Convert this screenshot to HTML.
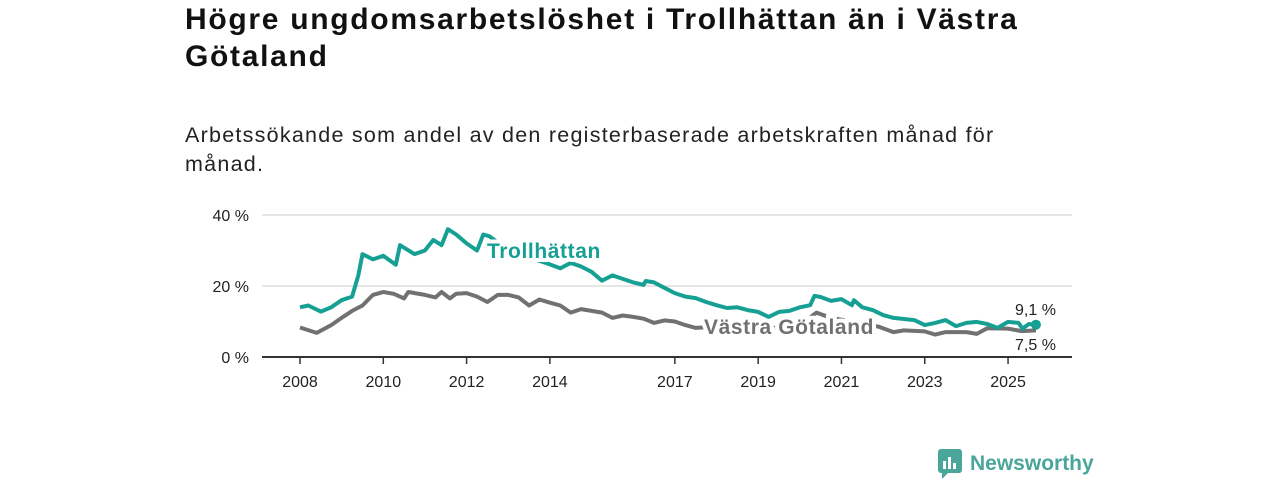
<!DOCTYPE html>
<html><head><meta charset="utf-8"><style>
body{margin:0;width:1280px;height:480px;background:#fff;font-family:"Liberation Sans",sans-serif;position:relative;overflow:hidden}
h1{position:absolute;left:185px;top:1px;margin:0;font-size:30px;line-height:37px;font-weight:bold;color:#111;width:850px;letter-spacing:1.7px}
.sub{position:absolute;left:185px;top:121px;font-size:21.5px;line-height:29px;color:#222;width:845px;letter-spacing:1.25px}
svg{position:absolute;left:0;top:0}
</style></head><body>
<h1>Högre ungdomsarbetslöshet i Trollhättan än i Västra Götaland</h1>
<div class="sub">Arbetssökande som andel av den registerbaserade arbetskraften månad för månad.</div>
<svg id="c" width="1280" height="480"></svg>
<script>
const yTicks=[0,20,40];
const xTicks=[2008,2010,2012,2014,2017,2019,2021,2023,2025];
const thT=[2008,2008.2,2008.5,2008.75,2009,2009.25,2009.4,2009.5,2009.75,2010,2010.3,2010.4,2010.75,2011,2011.2,2011.4,2011.55,2011.75,2012,2012.25,2012.4,2012.55,2013,2013.5,2013.9,2014.25,2014.5,2014.75,2015,2015.25,2015.5,2015.75,2016,2016.25,2016.3,2016.5,2016.75,2017,2017.25,2017.5,2017.75,2018,2018.25,2018.5,2018.75,2019,2019.25,2019.5,2019.75,2020,2020.25,2020.35,2020.5,2020.75,2021,2021.25,2021.3,2021.5,2021.75,2022,2022.25,2022.5,2022.75,2023,2023.25,2023.5,2023.75,2024,2024.25,2024.5,2024.75,2025,2025.25,2025.35,2025.5,2025.67];
const thV=[14,14.5,12.8,14,16,17,23,29,27.5,28.5,26,31.5,29,30,33,31.5,36,34.5,32,30,34.5,34,30,28,26.5,25,26.5,25.5,24,21.5,23,22,21,20.3,21.4,21,19.5,18,17,16.6,15.5,14.6,13.8,14,13.2,12.7,11.3,12.7,13,14,14.6,17.2,16.9,15.8,16.3,14.6,16,14,13.2,11.8,11,10.7,10.4,9,9.6,10.4,8.7,9.6,9.9,9.3,8.2,9.9,9.6,8.0,9.3,9.1];
const vgT=[2008,2008.4,2008.75,2009,2009.25,2009.5,2009.75,2010,2010.25,2010.5,2010.6,2011,2011.25,2011.4,2011.6,2011.75,2012,2012.25,2012.5,2012.75,2013,2013.25,2013.5,2013.75,2014,2014.25,2014.5,2014.75,2015,2015.25,2015.5,2015.75,2016,2016.25,2016.5,2016.75,2017,2017.25,2017.5,2018,2018.5,2019,2019.5,2020,2020.4,2020.75,2021,2021.5,2021.9,2022.25,2022.5,2023,2023.25,2023.5,2024,2024.25,2024.5,2025,2025.33,2025.67];
const vgV=[8.3,6.8,9,11,13,14.5,17.5,18.3,17.8,16.5,18.3,17.5,16.8,18.3,16.5,17.8,18,17,15.5,17.5,17.5,16.8,14.5,16.2,15.3,14.5,12.5,13.5,13,12.5,11,11.7,11.3,10.8,9.6,10.3,10,9,8.2,8.5,8.3,7.8,8.3,9,12.5,11,10.5,9.5,8.5,7,7.5,7.2,6.3,7,7,6.5,8.1,8.0,7.3,7.5];
const NS='http://www.w3.org/2000/svg';
const svg=document.getElementById('c');
const x=t=>300+(t-2008)*41.65;
const y=v=>357-v*3.55;
function el(tag,attrs,txt){const e=document.createElementNS(NS,tag);for(const k in attrs)e.setAttribute(k,attrs[k]);if(txt!=null)e.textContent=txt;svg.appendChild(e);return e;}
yTicks.forEach(v=>{
  if(v>0){const g=el('line',{x1:262,x2:1072,y1:y(v),y2:y(v),stroke:'#ddd','stroke-width':1.5});
  
  }
  const t=el('text',{x:249,y:y(v)+6,'text-anchor':'end','font-size':16,fill:'#222'},v+' %');
  
  
});
const ax=el('line',{x1:262,x2:1072,y1:357,y2:357,stroke:'#333','stroke-width':2});


xTicks.forEach(t=>{
  const l=el('line',{x1:x(t),x2:x(t),y1:357,y2:364,stroke:'#333','stroke-width':1.5});
  
  
  const tx=el('text',{x:x(t),y:387,'text-anchor':'middle','font-size':16,fill:'#222'},t);
  
  
});
function line(T,V,col,name){
  const d=T.map((t,i)=>(i?'L':'M')+x(t).toFixed(1)+','+y(V[i]).toFixed(1)).join('');
  const p=el('path',{d:d,fill:'none',stroke:col,'stroke-width':4,'stroke-linejoin':'round'});
  
  
}
line(vgT,vgV,'#717171','line-vastra-gotaland');
line(thT,thV,'#16a094','line-trollhattan');
const dot=el('circle',{cx:x(thT[thT.length-1]),cy:y(thV[thV.length-1]),r:5,fill:'#16a094'});


const l1=el('text',{x:487,y:258,'font-size':21,'font-weight':'bold','letter-spacing':'0.6',fill:'#16a094',stroke:'#fff','stroke-width':8,'paint-order':'stroke'},'Trollhättan');


const l2=el('text',{x:704,y:334,'font-size':21,'font-weight':'bold','letter-spacing':'0.6',fill:'#717171',stroke:'#fff','stroke-width':8,'paint-order':'stroke'},'Västra Götaland');


const v1=el('text',{x:1015,y:315,'font-size':16,fill:'#222'},thV[thV.length-1].toString().replace('.',',')+' %');


const v2=el('text',{x:1015,y:350,'font-size':16,fill:'#222'},vgV[vgV.length-1].toString().replace('.',',')+' %');


</script>
<div style="position:absolute;left:938px;top:449px;display:flex;align-items:center">
<svg width="24" height="30" style="position:static"><rect x="0" y="0" width="24" height="24" rx="3" fill="#4aa59a"/><path d="M4 24 L4 30 L10 24Z" fill="#4aa59a"/><rect x="5" y="12" width="3" height="8" fill="#fff"/><rect x="10" y="8" width="3" height="12" fill="#fff"/><rect x="15" y="14" width="3" height="6" fill="#fff"/></svg>
<span style="margin-left:8px;font-size:21px;font-weight:bold;color:#4aa59a">Newsworthy</span></div>
</body></html>
